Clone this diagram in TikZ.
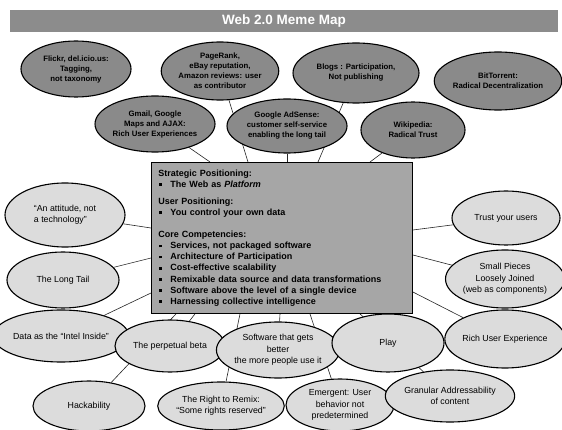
\documentclass[tikz,border=0pt]{standalone}
\usepackage{fontspec}
\setmainfont{Liberation Sans}
\usepackage{tikz}
\usetikzlibrary{shapes.geometric,backgrounds}
\definecolor{memeDark}{HTML}{8A8A8A}
\definecolor{memeLight}{HTML}{DCDCDC}
\definecolor{coreFill}{HTML}{A6A6A6}
\definecolor{titleFill}{HTML}{8C8C8C}
\newcommand{\bul}{\makebox[12pt][l]{\hspace{0.5pt}\rule[1.4pt]{2.8pt}{2.8pt}}}

\begin{document}
\begin{tikzpicture}[x=1pt, y=-1pt,
  dims/.style 2 args={minimum width=#1pt, minimum height=#2pt},
  meme/.style={ellipse, draw=black, line width=1.1pt, fill=memeDark, inner sep=0pt, align=center, font=\fontsize{7.8}{10}\selectfont\bfseries},
  idea/.style={ellipse, draw=black, line width=1.1pt, fill=memeLight, inner sep=0pt, align=center, font=\fontsize{8.8}{11.4}\selectfont},
  core/.style={draw=black, line width=0.9pt, fill=coreFill, anchor=north west, minimum width=261pt, minimum height=151pt, text width=247pt, inner xsep=7pt, align=left, font=\fontsize{9}{11.1}\selectfont\bfseries},
  link/.style={draw=black!85, line width=0.6pt}
]
  \useasboundingbox (0,0) rectangle (562,430);

  \node[fill=titleFill, minimum width=548pt, minimum height=22pt, inner sep=0pt, text=white, font=\fontsize{13.5}{15}\selectfont\bfseries] (title) at (284,21) {Web 2.0 Meme Map};

  % top row
  \node[meme, dims={110}{56}] (flickr) at (76,69) {Flickr, del.icio.us:\\Tagging,\\not taxonomy};
  \node[meme, dims={114}{58}] (pagerank) at (220,71) {PageRank,\\eBay reputation,\\Amazon reviews: user\\as contributor};
  \node[meme, dims={126}{60}] (blogs) at (356,73) {Blogs : Participation,\\Not publishing};
  \node[meme, dims={112}{58}] (bittorrent) at (498,81) {BitTorrent:\\Radical Decentralization};
  \node[meme, dims={120}{56}] (gmail) at (155,124) {Gmail, Google\\Maps and AJAX:\\Rich User Experiences};
  \node[meme, dims={120}{54}] (adsense) at (287,126) {Google AdSense:\\customer self-service\\enabling the long tail};
  \node[meme, dims={104}{56}] (wikipedia) at (413,130) {Wikipedia:\\Radical Trust};

  % centre
  \node[core] (box) at (151,162) {Strategic Positioning:\\
    \bul The Web as \textit{Platform}\\[6pt]
    User Positioning:\\
    \bul You control your own data\\[11pt]
    Core Competencies:\\
    \bul Services, not packaged software\\
    \bul Architecture of Participation\\
    \bul Cost-effective scalability\\
    \bul Remixable data source and data transformations\\
    \bul Software above the level of a single device\\
    \bul Harnessing collective intelligence};

  % left side
  \node[idea, dims={120}{64}, align=left] (attitude) at (65,215) {“An attitude, not\\a technology”};
  \node[idea, dims={112}{56}] (longtail) at (63,280) {The Long Tail};
  \node[idea, dims={108}{52}] (intel) at (61,336) {Data as the “Intel Inside”};
  \node[idea, dims={110}{52}] (beta) at (170,346) {The perpetual beta};
  \node[idea, dims={112}{50}] (hack) at (89,406) {Hackability};

  % bottom
  \node[idea, dims={112}{48}] (remix) at (221,406) {The Right to Remix:\\“Some rights reserved”};
  \node[idea, dims={110}{56}] (software) at (278,350) {Software that gets\\better\\the more people use it};
  \node[idea, dims={108}{52}] (emergent) at (340,405) {Emergent: User\\behavior not\\predetermined};
  \node[idea, dims={112}{58}] (play) at (388,343) {Play};
  \node[idea, dims={106}{52}] (granular) at (450,396) {Granular Addressability\\of content};

  % right side
  \node[idea, dims={114}{58}] (rich) at (505,339) {Rich User Experience};
  \node[idea, dims={108}{58}] (pieces) at (505,279) {Small Pieces\\Loosely Joined\\(web as components)};
  \node[idea, dims={108}{54}] (trust) at (506,218) {Trust your users};

  \begin{scope}[on background layer]
    \fill[white] (0,0) rectangle (562,430);
    \draw[link] (gmail) -- ([xshift=59pt]box.north west);
    \draw[link] (pagerank) -- ([xshift=97pt]box.north west);
    \draw[link] (adsense) -- ([xshift=136pt]box.north west);
    \draw[link] (blogs) -- ([xshift=167pt]box.north west);
    \draw[link] (wikipedia) -- ([xshift=219pt]box.north west);
    \draw[link] (attitude) -- ([yshift=-66pt]box.north west);
    \draw[link] (longtail) -- ([yshift=-96pt]box.north west);
    \draw[link] (intel) -- ([yshift=-131pt]box.north west);
    \draw[link] (hack) -- ([xshift=25pt]box.south west);
    \draw[link] (beta) -- ([xshift=44pt]box.south west);
    \draw[link] (remix) -- ([xshift=89pt]box.south west);
    \draw[link] (software) -- ([xshift=129pt]box.south west);
    \draw[link] (emergent) -- ([xshift=159pt]box.south west);
    \draw[link] (granular) -- ([xshift=209pt]box.south west);
    \draw[link] (trust) -- ([yshift=-68pt]box.north east);
    \draw[link] (pieces) -- ([yshift=-93pt]box.north east);
    \draw[link] (rich) -- ([yshift=-130pt]box.north east);
  \end{scope}
\end{tikzpicture}
\end{document}
